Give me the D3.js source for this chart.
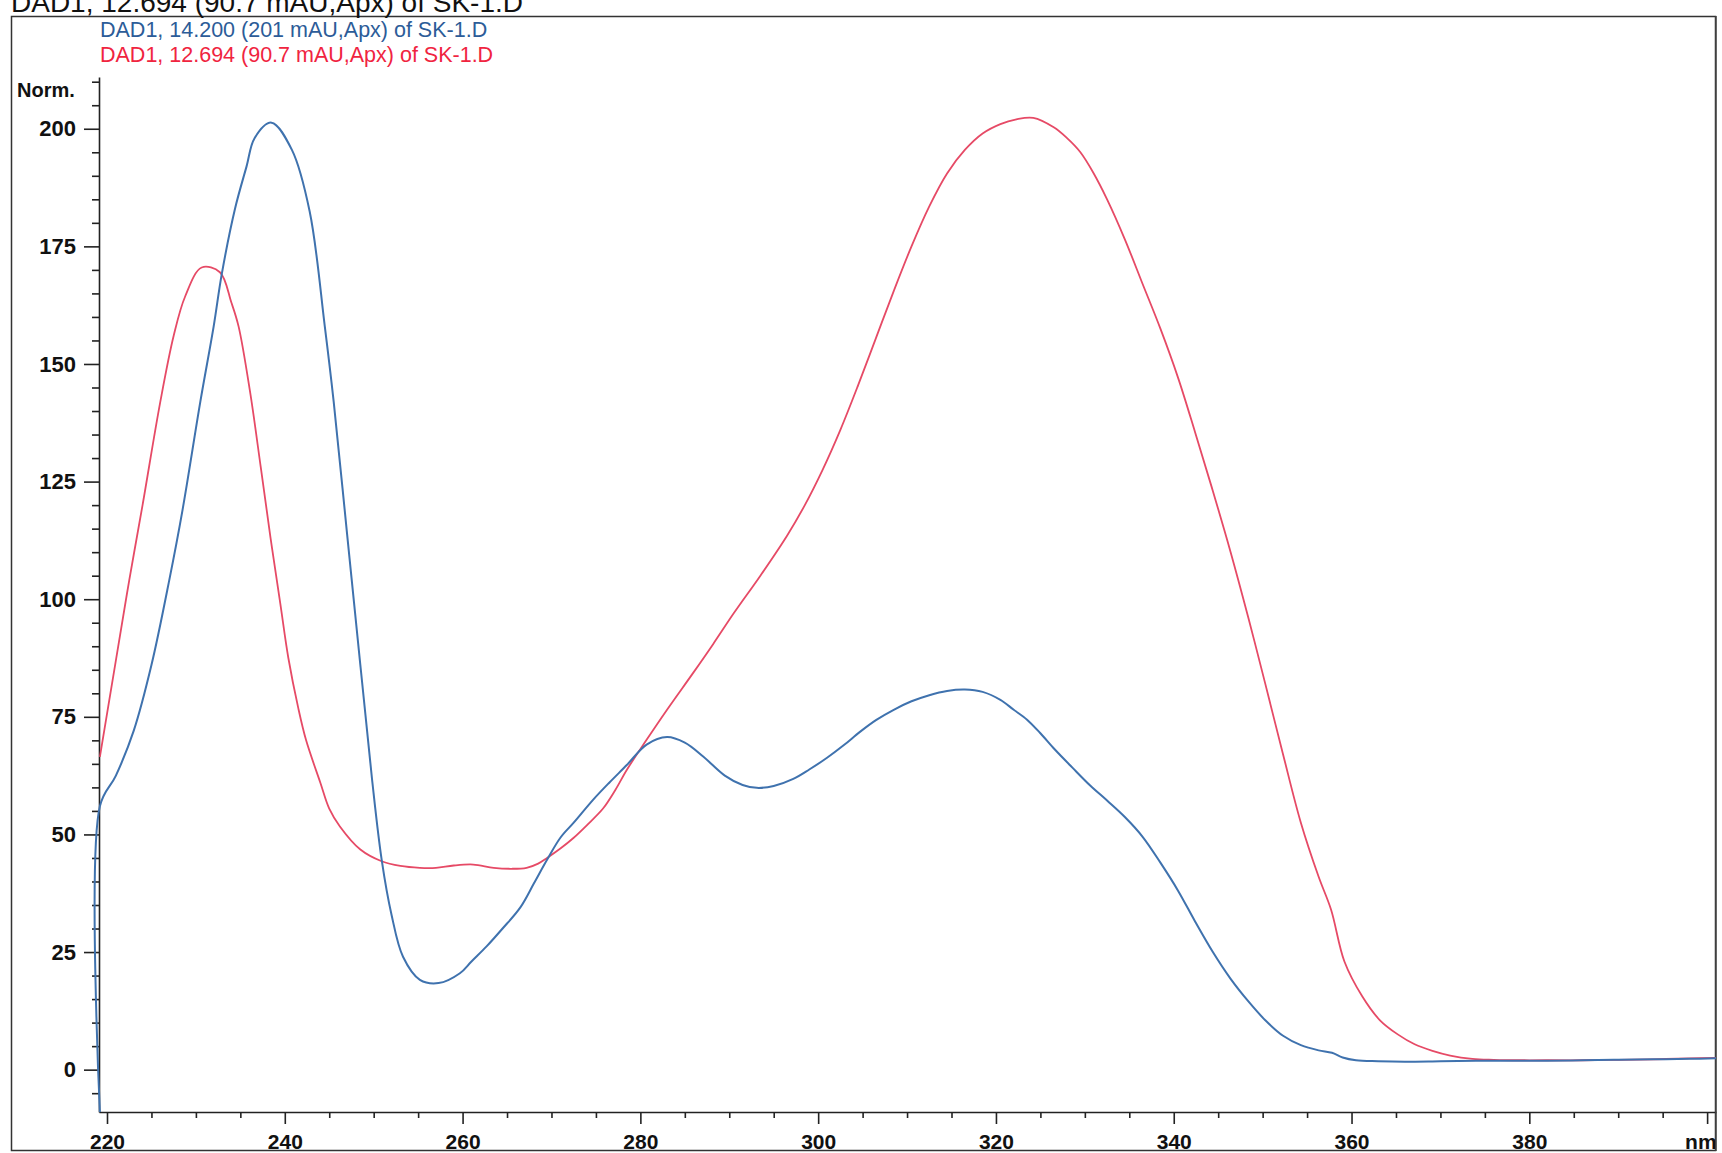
<!DOCTYPE html>
<html><head><meta charset="utf-8">
<script src="https://cdn.jsdelivr.net/npm/d3@7"></script>
<style>body{margin:0;background:#fff}svg{display:block}</style>
</head><body>
<script>
// ---------- data ----------
const titleText = "DAD1, 12.694 (90.7 mAU,Apx) of SK-1.D";
const seriesNames = ["DAD1, 14.200 (201 mAU,Apx) of SK-1.D", "DAD1, 12.694 (90.7 mAU,Apx) of SK-1.D"];
const yAxisTitle = "Norm.";
const xUnitLabel = "nm";
const xTickValues = [220, 240, 260, 280, 300, 320, 340, 360, 380];
const yTickValues = [0, 25, 50, 75, 100, 125, 150, 175, 200];

const blueWl = [219.2, 219.2, 221, 223, 225, 227, 228.5, 230.5, 232, 232.9, 234.4, 235.7, 236.6, 238.5, 240.8, 242.8, 244.5, 245.5, 247, 248.5, 249.8, 250.9, 252, 253.3, 255.2, 257.3, 259.7, 261, 262.7, 264.5, 266.5, 268, 269.5, 271, 272.5, 274.7, 276.5, 278.5, 280.7, 283, 285, 287.1, 289.5, 291.5, 293.1, 295, 297.2, 299, 301, 302.9, 304.7, 306.5, 308.5, 310.5, 312.5, 314.5, 316.5, 318.5, 320.5, 322, 323.5, 325, 326.6, 328.6, 330.6, 332.5, 334.5, 336.5, 338.5, 340.5, 342.4, 344.4, 346.4, 348.4, 350.3, 352.3, 354.3, 356.3, 357.8, 359, 360.5, 363, 366, 370, 374, 378, 382, 386, 390, 394, 398, 401];
const blueAbs = [-9, 56, 62.5, 72, 86, 104, 119, 142, 158, 169, 183, 192, 198, 201.3, 195.5, 182.4, 158, 142, 114, 86, 62, 44.6, 33, 24, 19.1, 18.4, 20.5, 23, 26.2, 30, 34.5, 39.5, 44.6, 49.3, 52.5, 57.4, 61, 64.8, 69.1, 70.7, 69.5, 66.5, 62.5, 60.5, 59.9, 60.3, 61.8, 63.8, 66.3, 69, 71.8, 74.3, 76.5, 78.3, 79.6, 80.5, 80.8, 80.3, 78.6, 76.5, 74.4, 71.5, 68.1, 64.2, 60.4, 57.2, 53.7, 49.5, 44, 38, 31.5, 25, 19.3, 14.5, 10.5, 7.2, 5.2, 4.1, 3.6, 2.6, 2, 1.8, 1.7, 1.8, 1.9, 1.9, 1.9, 2, 2.1, 2.2, 2.3, 2.4];

const redWl = [219.2, 221, 222.5, 224, 226, 227.5, 228.8, 230.65, 232.7, 234, 234.8, 236.1, 237.3, 238.4, 239.5, 240.4, 241.5, 242.4, 244, 245, 246.2, 248.5, 250.9, 253, 255.2, 257, 259, 261.2, 263.5, 265.5, 267.2, 268.5, 269.5, 271, 272.5, 274, 275.8, 277.2, 278.5, 280.7, 283, 286, 288.2, 290.5, 293.5, 296.5, 298.5, 300.5, 302.5, 304.5, 306.5, 308.5, 310.5, 312.5, 314.5, 316.5, 318.5, 320.5, 322.3, 324.2, 326.5, 328, 329.5, 331, 332.5, 334.5, 336.5, 338.5, 340.5, 342.4, 344.4, 346.4, 348.4, 350.3, 352.3, 354.3, 356.3, 357.7, 359.2, 361.2, 363.2, 365.2, 367.1, 369.1, 371.1, 373.6, 376, 379, 382, 386, 390, 394, 398, 401];
const redAbs = [66.5, 87, 104, 120, 142, 156, 164.4, 170.5, 169.5, 163, 158, 144, 128, 113, 99, 87.5, 77, 70, 61, 55.5, 51.7, 46.8, 44.3, 43.3, 42.9, 42.9, 43.4, 43.6, 42.9, 42.7, 42.9, 43.8, 45, 47, 49.3, 52, 55.5, 59.5, 63.8, 70.1, 76.5, 84.5, 90.5, 97, 105, 113.5, 120, 127.5, 136, 145.5, 155.5, 165.5, 175, 183.5, 190.5, 195.5, 199, 201, 202, 202.3, 200.3, 198, 195, 190.5, 185, 176.5, 167, 157.5, 147, 135.5, 123, 110, 96, 82, 67, 52.5, 41, 34, 23, 15.6, 10.5, 7.5, 5.4, 4, 3, 2.3, 2.1, 2.0, 2.0, 2.0, 2.1, 2.2, 2.4, 2.5];

// ---------- layout ----------
const W = 1722, H = 1153;
const font = "'Liberation Sans', Arial, sans-serif";
const blueLine = "#3f72ae", redLine = "#e64a66";
const blueText = "#2c5c98", redText = "#f0243f";

const svg = d3.select("body").append("svg").attr("width", W).attr("height", H)
  .style("font-family", font);

const x = d3.scaleLinear().domain([219.1, 401]).range([99, 1716]);
const y = d3.scaleLinear().domain([-9, 211]).range([1112, 77]);

// outer frame
svg.append("rect").attr("x", 11.5).attr("y", 16.5).attr("width", 1704).attr("height", 1134)
  .attr("fill", "none").attr("stroke", "#333").attr("stroke-width", 1.5);

// title (cut at top, as in the source)
svg.append("text").attr("x", 11).attr("y", 12).attr("font-size", 28).attr("fill", "#111")
  .text(titleText);

// legend texts
svg.append("text").attr("x", 100).attr("y", 37).attr("font-size", 21.5).attr("fill", blueText).text(seriesNames[0]);
svg.append("text").attr("x", 100).attr("y", 62).attr("font-size", 21.5).attr("fill", redText).text(seriesNames[1]);

// y axis title
svg.append("text").attr("x", 17).attr("y", 97).attr("font-size", 20).attr("font-weight", "bold")
  .attr("fill", "#111").text(yAxisTitle);

// y axis
const yMinor = d3.range(-5, 211, 5).filter(v => v % 25 !== 0);
const yAxisG = svg.append("g").attr("transform", `translate(${x(219.1)},0)`);
yAxisG.call(d3.axisLeft(y).tickValues(yMinor).tickSize(7).tickSizeOuter(0).tickFormat(""));
yAxisG.append("g").call(d3.axisLeft(y).tickValues(yTickValues).tickSize(15).tickSizeOuter(0).tickPadding(8))
  .call(g => g.select(".domain").remove());
yAxisG.selectAll("path,line").attr("stroke", "#222").attr("stroke-width", 1.6);
yAxisG.selectAll("text").attr("font-size", 22).attr("font-weight", "bold").attr("fill", "#111")
  .attr("font-family", font);

// x axis
const xMinor = d3.range(225, 401, 5).filter(v => v % 20 !== 0);
const xAxisG = svg.append("g").attr("transform", `translate(0,${y(-9)})`);
xAxisG.call(d3.axisBottom(x).tickValues(xMinor).tickSize(6).tickSizeOuter(0).tickFormat(""));
xAxisG.append("g").call(d3.axisBottom(x).tickValues([...xTickValues, 400]).tickSize(12).tickSizeOuter(0)
    .tickPadding(10).tickFormat(d => d === 400 ? xUnitLabel : d))
  .call(g => g.select(".domain").remove());
xAxisG.selectAll("path,line").attr("stroke", "#222").attr("stroke-width", 1.6);
xAxisG.selectAll("text").attr("font-size", 21).attr("font-weight", "bold").attr("fill", "#111")
  .attr("font-family", font);
xAxisG.selectAll("text").filter(d => d === 400).attr("text-anchor", "end").attr("dx", 9);

// right border line
svg.append("line").attr("x1", x(401)).attr("x2", x(401)).attr("y1", 16).attr("y2", 1151)
  .attr("stroke", "#444").attr("stroke-width", 1.5);

// curves
const line = d3.line().x(d => x(d[0])).y(d => y(d[1])).curve(d3.curveCatmullRom.alpha(0.5));
const redData = redWl.map((w, i) => [w, redAbs[i]]);
const blueData = blueWl.map((w, i) => [w, blueAbs[i]]);
svg.append("path").datum(redData).attr("d", line).attr("fill", "none")
  .attr("stroke", redLine).attr("stroke-width", 1.8).attr("stroke-linejoin", "round");
svg.append("path").datum(blueData).attr("d", line).attr("fill", "none")
  .attr("stroke", blueLine).attr("stroke-width", 2).attr("stroke-linejoin", "round");
</script>
</body></html>
